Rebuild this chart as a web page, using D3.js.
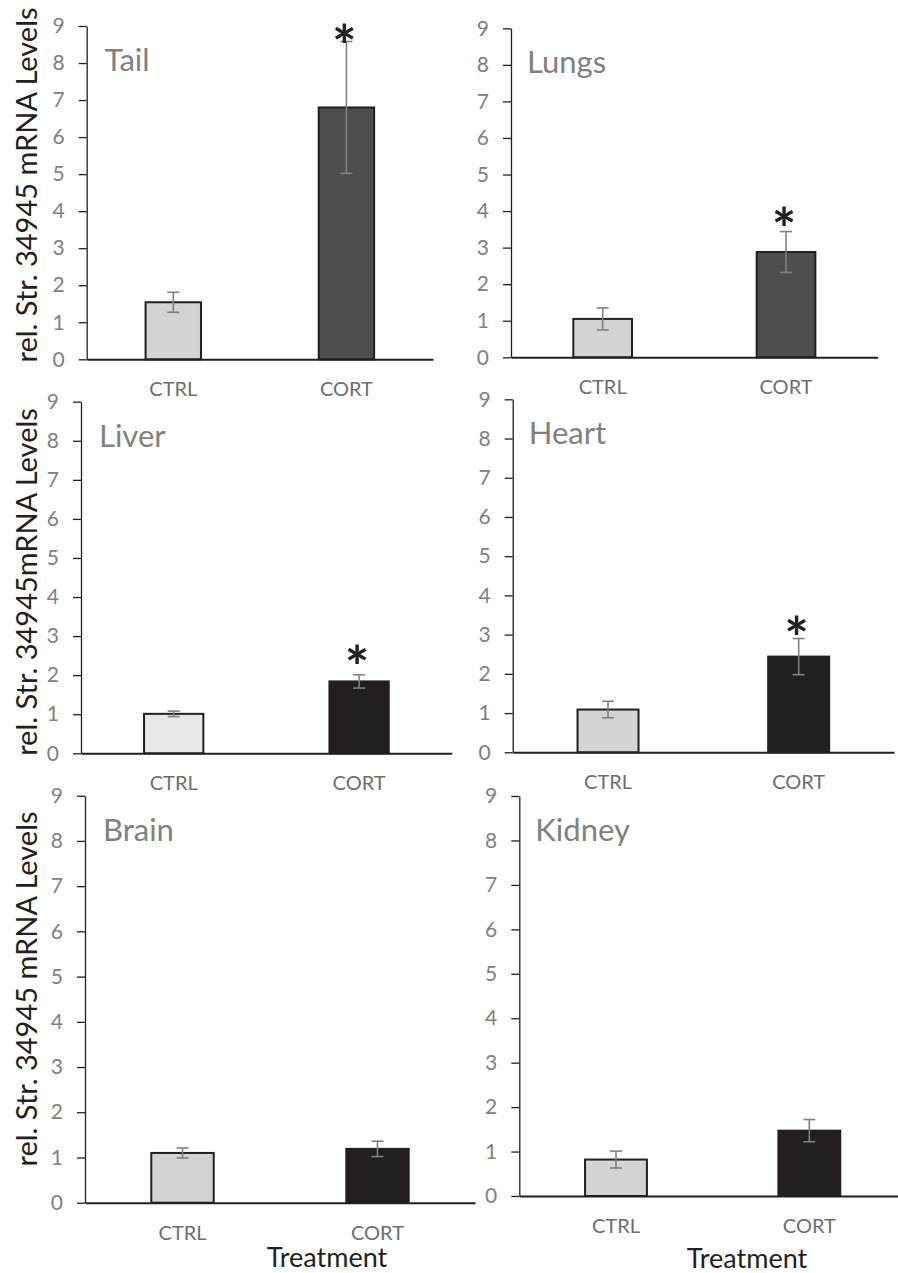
<!DOCTYPE html>
<html>
<head>
<meta charset="utf-8">
<script src="https://cdn.jsdelivr.net/npm/d3@7"></script>
<style>
  body { margin: 0; background: #fff; }
  svg { display: block; font-family: Lato, "Open Sans", sans-serif; }
</style>
</head>
<body>
<svg id="chart"></svg>
<script>
// values
var organs = ["Tail", "Lungs", "Liver", "Heart", "Brain", "Kidney"]
var groups = ["CTRL", "CORT"]
var ctrlMeans = [1.54, 1.05, 1.01, 1.09, 1.10, 0.82]
var ctrlErrors = [0.27, 0.30, 0.07, 0.21, 0.11, 0.19]
var cortMeans = [6.80, 2.88, 1.84, 2.44, 1.19, 1.47]
var cortErrors = [1.78, 0.56, 0.17, 0.46, 0.17, 0.25]
var significant = [true, true, true, true, false, false]
var yTicks = [0, 1, 2, 3, 4, 5, 6, 7, 8, 9]
var yTitles = ["rel. Str. 34945 mRNA Levels", "rel. Str. 34945mRNA Levels", "rel. Str. 34945 mRNA Levels"]
var xTitle = "Treatment"

var dimensions = { width: 898, height: 1273 }

// where each panel sits on the page
var panels = [
  { left: 86.7, right: 433, top: 26, bottom: 359.3, ctrlFill: "#d1d3d4", cortFill: "#4d4e50", star: 7 },
  { left: 511, right: 877.7, top: 28.3, bottom: 357.3, ctrlFill: "#d1d3d4", cortFill: "#4d4e50", star: 14 },
  { left: 81, right: 451.8, top: 401.7, bottom: 753.3, ctrlFill: "#e6e7e8", cortFill: "#231f20", star: 19 },
  { left: 512.7, right: 894, top: 399.3, bottom: 752.3, ctrlFill: "#d1d3d4", cortFill: "#231f20", star: 12.5 },
  { left: 85, right: 475, top: 795.7, bottom: 1202.7, ctrlFill: "#d1d3d4", cortFill: "#231f20", star: 12 },
  { left: 519.3, right: 906, top: 796, bottom: 1196, ctrlFill: "#d1d3d4", cortFill: "#231f20", star: 12 }
]
var yTitlePos = [{ x: 37, y: 185 }, { x: 37, y: 582 }, { x: 37, y: 989 }]
var xTitlePos = [{ x: 327, y: 1267 }, { x: 747, y: 1268 }]

var svg = d3.select("#chart")
  .attr("width", dimensions.width)
  .attr("height", dimensions.height)

organs.forEach(function (organ, i) {
  var p = panels[i]
  var rows = [
    { group: groups[0], value: ctrlMeans[i], err: ctrlErrors[i], fill: p.ctrlFill },
    { group: groups[1], value: cortMeans[i], err: cortErrors[i], fill: p.cortFill }
  ]

  var yScale = d3.scaleLinear()
    .domain([0, 9])
    .range([p.bottom, p.top])

  var xScale = d3.scaleBand()
    .domain(groups)
    .range([p.left, p.right])
    .paddingInner(0.68)
    .paddingOuter(0.34)

  var g = svg.append("g")

  // bars
  g.selectAll("rect")
    .data(rows)
    .enter().append("rect")
    .attr("x", d => xScale(d.group))
    .attr("y", d => yScale(d.value))
    .attr("width", xScale.bandwidth())
    .attr("height", d => yScale(0) - yScale(d.value))
    .attr("fill", d => d.fill)
    .attr("stroke", "#231f20")
    .attr("stroke-width", 2)

  // error bars
  var cx = d => xScale(d.group) + xScale.bandwidth() / 2
  var errs = g.append("g")
    .attr("stroke", "#808080")
    .attr("stroke-width", 1.6)
  errs.selectAll(".stem")
    .data(rows)
    .enter().append("line")
    .attr("x1", cx).attr("x2", cx)
    .attr("y1", d => yScale(d.value + d.err))
    .attr("y2", d => yScale(d.value - d.err))
  errs.selectAll(".capTop")
    .data(rows)
    .enter().append("line")
    .attr("x1", d => cx(d) - 6).attr("x2", d => cx(d) + 6)
    .attr("y1", d => yScale(d.value + d.err))
    .attr("y2", d => yScale(d.value + d.err))
  errs.selectAll(".capBottom")
    .data(rows)
    .enter().append("line")
    .attr("x1", d => cx(d) - 6).attr("x2", d => cx(d) + 6)
    .attr("y1", d => yScale(d.value - d.err))
    .attr("y2", d => yScale(d.value - d.err))

  // significance mark over CORT
  if (significant[i]) {
    g.append("text")
      .attr("x", cx(rows[1]) - 2)
      .attr("y", yScale(rows[1].value + rows[1].err) - p.star)
      .attr("dy", "0.56em")
      .attr("text-anchor", "middle")
      .style("font-size", "58px")
      .style("font-weight", "bold")
      .style("fill", "#231f20")
      .text("*")
  }

  // axes
  var yAxisGen = d3.axisLeft(yScale)
    .tickValues(yTicks)
    .tickSize(8)
    .tickSizeOuter(0)
    .tickPadding(14)
  var yAxis = g.append("g")
    .attr("transform", `translate(${p.left},0)`)
    .call(yAxisGen)
  yAxis.select(".domain").attr("stroke", "#231f20").attr("stroke-width", 1.3)
  yAxis.selectAll(".tick line").attr("stroke", "#231f20").attr("stroke-width", 1.3)
  yAxis.selectAll(".tick text")
    .style("font-size", "21px")
    .style("font-family", "Lato")
    .attr("fill", "#808080")

  var xAxisGen = d3.axisBottom(xScale)
    .tickSize(0)
    .tickSizeOuter(0)
    .tickPadding(23)
  var xAxis = g.append("g")
    .attr("transform", `translate(0,${p.bottom})`)
    .call(xAxisGen)
  xAxis.select(".domain").attr("stroke", "#231f20").attr("stroke-width", 2)
  xAxis.selectAll(".tick text")
    .style("font-size", "20px")
    .style("font-family", "Lato")
    .attr("fill", "#6d6e71")

  // organ name
  g.append("text")
    .attr("x", p.left + (i % 2 == 0 ? 18 : 16))
    .attr("y", p.top + 45)
    .style("font-size", "31px")
    .style("fill", "#808080")
    .text(organ)
})

yTitles.forEach(function (t, i) {
  svg.append("text")
    .attr("transform", `translate(${yTitlePos[i].x},${yTitlePos[i].y}) rotate(-90)`)
    .attr("text-anchor", "middle")
    .style("font-size", "29px")
    .style("fill", "#231f20")
    .text(t)
})

xTitlePos.forEach(function (pos) {
  svg.append("text")
    .attr("x", pos.x)
    .attr("y", pos.y)
    .attr("text-anchor", "middle")
    .style("font-size", "27px")
    .style("fill", "#231f20")
    .text(xTitle)
})
</script>
</body>
</html>
